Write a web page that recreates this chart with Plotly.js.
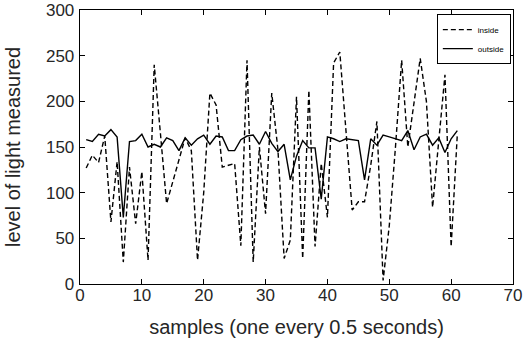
<!DOCTYPE html>
<html>
<head>
<meta charset="utf-8">
<script src="https://cdn.plot.ly/plotly-3.0.1.min.js"></script>
<style>html,body{margin:0;padding:0;background:#fff;}#chart{width:526px;height:349px;}</style>
</head>
<body>
<div id="chart"></div>
<script>
const samples = [1,2,3,4,5,6,7,8,9,10,11,12,13,14,15,16,17,18,19,20,21,22,23,24,25,26,27,28,29,30,31,32,33,34,35,36,37,38,39,40,41,42,43,44,45,46,47,48,49,50,51,52,53,54,55,56,57,58,59,60,61];
const inside = [127,141,133,162,68,134,24,128,66,123,26,240,165,88,112,136,160,146,26,100,209,196,128,130,132,42,245,24,150,77,209,147,28,48,205,28,212,41,132,73,242,254,170,81,90,90,130,178,4,64,150,245,150,198,247,200,84,157,229,41,164];
const outside = [158,156,164,162,169,161,73,156,157,164,150,153,150,160,157,146,160,152,159,163,153,162,161,146,146,158,162,163,153,167,154,145,153,114,140,157,149,149,93,161,159,156,159,158,157,114,159,152,163,161,159,157,168,147,161,164,152,160,144,159,168];
const xTicks = [0,10,20,30,40,50,60,70];
const yTicks = [0,50,100,150,200,250,300];

const traces = [
  {x: samples, y: inside, name: 'inside', type: 'scatter', mode: 'lines',
   line: {color: '#000', width: 1.4, dash: '5px,3px'}},
  {x: samples, y: outside, name: 'outside', type: 'scatter', mode: 'lines',
   line: {color: '#000', width: 1.4}}
];

const axisCommon = {
  showgrid: false, zeroline: false, showline: true, linecolor: '#000', linewidth: 1.3,
  mirror: 'ticks', ticks: 'inside', ticklen: 5, tickwidth: 1, tickcolor: '#000',
  tickfont: {family: 'Liberation Sans, Arial, sans-serif', size: 17, color: '#262626'}
};

const layout = {
  width: 526, height: 349,
  margin: {l: 80, r: 13, t: 10, b: 65},
  paper_bgcolor: '#fff', plot_bgcolor: '#fff',
  font: {family: 'Liberation Sans, Arial, sans-serif', color: '#262626'},
  showlegend: true,
  xaxis: Object.assign({}, axisCommon, {
    range: [0, 70], tickvals: xTicks, ticktext: xTicks.map(String),
    ticklabelstandoff: -5,
    title: {text: 'samples (one every 0.5 seconds)', font: {size: 20, color: '#262626'}, standoff: 16}
  }),
  yaxis: Object.assign({}, axisCommon, {
    range: [0, 300], tickvals: yTicks, ticktext: yTicks.map(String),
    ticklabelstandoff: 1,
    title: {text: 'level of light measured', font: {size: 20, color: '#262626'}, standoff: 20}
  }),
  legend: {
    x: 0.995, y: 0.985, xanchor: 'right', yanchor: 'top',
    bgcolor: '#fff', bordercolor: '#000', borderwidth: 1,
    font: {size: 8, color: '#000'}, tracegroupgap: 0
  }
};

Plotly.newPlot('chart', traces, layout, {displayModeBar: false, staticPlot: true});
</script>
</body>
</html>
